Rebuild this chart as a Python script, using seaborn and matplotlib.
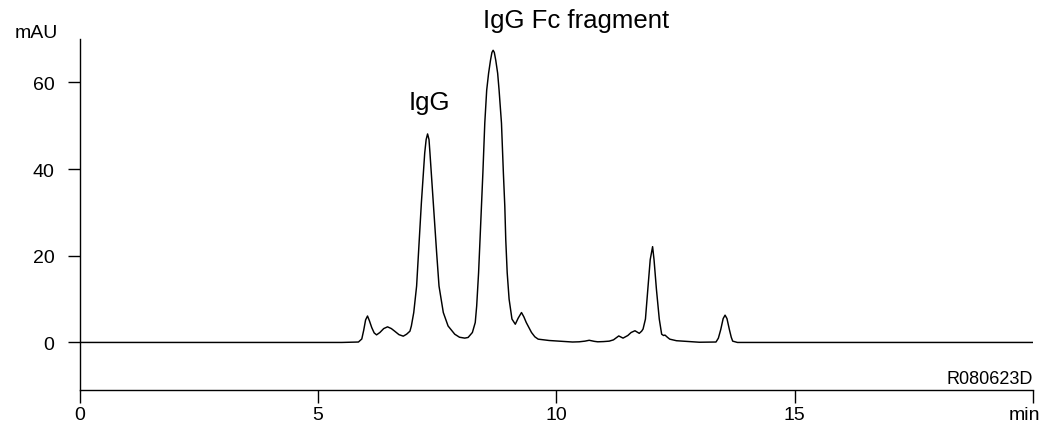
import matplotlib
matplotlib.use("Agg")
import matplotlib.pyplot as plt
import matplotlib.transforms as mtransforms
import seaborn as sns
import pandas as pd

# Retention time (min) and absorbance (mAU)
time_min = [
    0.0, 5.5, 5.85, 5.92, 5.96, 6.00, 6.04, 6.08, 6.13, 6.18, 6.23, 6.30, 6.38,
    6.46, 6.54, 6.61, 6.70, 6.79, 6.86, 6.93, 6.96, 7.01, 7.07, 7.11, 7.17, 7.24,
    7.27, 7.30, 7.33, 7.35, 7.42, 7.49, 7.54, 7.63, 7.73, 7.87, 7.97, 8.08, 8.15,
    8.24, 8.30, 8.33, 8.37, 8.40, 8.43, 8.46, 8.50, 8.54, 8.58, 8.62, 8.65, 8.675,
    8.70, 8.73, 8.77, 8.80, 8.85, 8.89, 8.92, 8.94, 8.97, 9.01, 9.07, 9.14, 9.20,
    9.27, 9.32, 9.37, 9.48, 9.55, 9.62, 9.85, 10.06, 10.34, 10.48, 10.60, 10.69,
    10.80, 10.87, 10.99, 11.11, 11.20, 11.31, 11.40, 11.50, 11.57, 11.65, 11.74,
    11.79, 11.82, 11.87, 11.92, 11.97, 12.02, 12.05, 12.10, 12.16, 12.21, 12.25,
    12.28, 12.33, 12.38, 12.52, 13.00, 13.35, 13.40, 13.45, 13.50, 13.54, 13.58,
    13.63, 13.67, 13.70, 13.80, 20.0,
]
absorbance_mau = [
    0.0, 0.0, 0.1, 0.8, 2.8, 5.2, 6.1, 5.0, 3.4, 2.2, 1.75, 2.3, 3.2,
    3.6, 3.2, 2.6, 1.8, 1.45, 1.9, 2.6, 3.8, 6.9, 13.0, 20.7, 32.2, 43.7,
    46.8, 48.1, 46.8, 43.7, 32.2, 20.7, 13.0, 6.9, 3.8, 1.9, 1.2, 1.0, 1.15,
    2.3, 4.6, 8.4, 16.1, 23.7, 31.4, 39.1, 50.6, 58.2, 62.1, 65.1, 66.9, 67.4,
    66.9, 65.1, 62.1, 58.2, 50.6, 39.1, 31.4, 23.7, 16.1, 10.0, 5.4, 4.2, 5.6,
    6.9, 5.9, 4.6, 2.3, 1.3, 0.76, 0.45, 0.3, 0.1, 0.15, 0.3, 0.5,
    0.25, 0.15, 0.2, 0.3, 0.6, 1.5, 1.0, 1.6, 2.3, 2.7, 2.1,
    2.6, 3.1, 5.4, 12.3, 19.1, 22.1, 19.1, 12.3, 5.4, 1.9, 1.6,
    1.7, 1.2, 0.76, 0.4, 0.05, 0.1, 1.0, 3.0, 5.5, 6.3, 5.5,
    3.0, 1.2, 0.3, 0.0, 0.0,
]

x_ticks = [0, 5, 10, 15, 20]
x_tick_labels = ["0", "5", "10", "15", "min"]
y_ticks = [0, 20, 40, 60]
y_tick_labels = ["0", "20", "40", "60"]

peak_labels = ["IgG", "IgG Fc fragment"]
peak_label_pos = [(7.33, 53.9), (10.41, 72.7)]

df = pd.DataFrame({"time": time_min, "mAU": absorbance_mau})

sns.set_style("ticks")
plt.rcParams["font.family"] = ["Liberation Sans", "DejaVu Sans"]

fig = plt.figure(figsize=(10.44, 4.31), dpi=100)
ax = fig.add_axes([0.0762, 0.0935, 0.9133, 0.8137])

sns.lineplot(data=df, x="time", y="mAU", ax=ax, color="black", linewidth=1.05,
             estimator=None, sort=False)

ax.set_xlim(0, 20)
ax.set_ylim(-10.9, 70)
ax.set_xticks(x_ticks)
# the last label ("min") is drawn separately, shifted left so it stays inside
ax.set_xticklabels(x_tick_labels[:-1] + [""])
ax.set_yticks(y_ticks)
ax.set_yticklabels(y_tick_labels)
ax.set_xlabel("")
ax.set_ylabel("")

for s in ["top", "right"]:
    ax.spines[s].set_visible(False)
for s in ["left", "bottom"]:
    ax.spines[s].set_color("black")
    ax.spines[s].set_linewidth(1.0)

tick_len = 9
tick_pad = 3
ax.tick_params(axis="y", direction="out", length=8.5, width=1.0, pad=9.5,
               labelsize=14, colors="black")
ax.tick_params(axis="x", direction="out", length=tick_len, width=1.0, pad=tick_pad,
               labelsize=14, colors="black")

min_trans = mtransforms.offset_copy(ax.get_xaxis_transform(), fig=fig,
                                    x=-6, y=-(tick_len + tick_pad), units="points")
ax.text(x_ticks[-1], 0, x_tick_labels[-1], transform=min_trans, ha="center",
        va="top", fontsize=14, color="black", clip_on=False)

for lab, (tx, ty) in zip(peak_labels, peak_label_pos):
    ax.text(tx, ty, lab, ha="center", va="baseline", fontsize=18.5,
            color="black", clip_on=False)

fig.text(58 / 1044, 1 - 38 / 431, "mAU", ha="right", va="baseline",
         fontsize=14, color="black")
ax.text(1.0, -9.4, "R080623D", transform=ax.get_yaxis_transform(),
        ha="right", va="baseline", fontsize=13, color="black")

fig.savefig("out.png", dpi=100, facecolor="white")
